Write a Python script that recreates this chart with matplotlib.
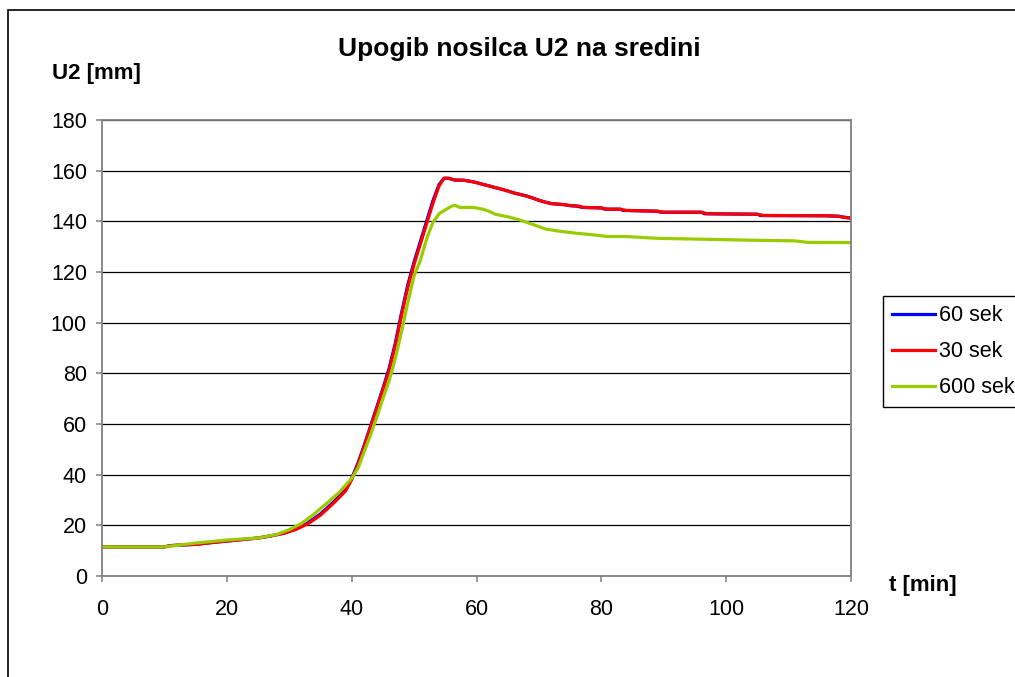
import matplotlib
matplotlib.use("Agg")
import matplotlib.pyplot as plt
from matplotlib.patches import Rectangle

plt.rcParams['font.family'] = ['Liberation Sans', 'DejaVu Sans']

# ---- data ----
t_60 = [0, 5, 10, 11, 15, 18, 20, 23, 25, 27, 29, 31, 33, 35, 37, 39, 40, 41, 42, 43,
        44, 45, 46, 47, 48, 49, 50, 51, 52, 53, 54, 54.8, 55.5, 56.5, 58, 59, 60, 61,
        62, 63, 64, 65, 66, 67, 68, 69, 70, 71, 72, 73, 74, 75, 76, 77, 80, 80.5, 83,
        83.5, 89, 89.5, 96, 96.5, 105, 105.5, 116, 118, 119, 120]
u_60 = [11.5, 11.5, 11.5, 12, 12.5, 13.3, 13.8, 14.5, 15, 15.8, 16.8, 18.5, 21, 24.5, 29,
        34, 38.5, 44.5, 51.5, 59, 66.5, 74, 82, 92, 104, 115, 124, 132, 140, 148, 154.5,
        157, 157, 156.3, 156.2, 155.8, 155.3, 154.6, 154, 153.3, 152.7, 152, 151.2, 150.6,
        150, 149.2, 148.3, 147.6, 147, 146.8, 146.6, 146.2, 146, 145.5, 145.3, 144.8,
        144.8, 144.3, 144, 143.6, 143.6, 143, 142.8, 142.3, 142.2, 142, 141.6, 141.3]

t_30 = [0, 5, 10, 11, 15, 18, 20, 23, 25, 27, 29, 31, 33, 35, 37, 39, 40, 41, 42, 43,
        44, 45, 46, 47, 48, 49, 50, 51, 52, 53, 54, 54.8, 55.5, 56.5, 58, 59, 60, 61,
        62, 63, 64, 65, 66, 67, 68, 69, 70, 71, 72, 73, 74, 75, 76.5, 77, 80, 81, 83,
        84, 89, 90, 96, 97, 105, 106, 116, 118, 119, 120]
u_30 = [11.5, 11.5, 11.5, 12, 12.5, 13.3, 13.8, 14.5, 15, 15.8, 16.8, 18.3, 20.6, 24, 28.5,
        33.5, 38, 44, 51, 58.5, 66, 73.5, 81, 91, 103, 114, 123, 131, 139, 147, 154,
        157, 157, 156.3, 156.2, 155.8, 155.3, 154.6, 154, 153.3, 152.7, 152, 151.2, 150.6,
        150, 149.2, 148.3, 147.6, 147, 146.8, 146.6, 146.2, 146, 145.5, 145.3, 144.8,
        144.8, 144.3, 144, 143.6, 143.6, 143, 142.8, 142.3, 142.2, 142, 141.5, 141.2]

t_600 = [0, 10, 15, 20, 25, 28, 30, 32, 34, 36, 38, 40, 41, 42, 43, 44, 45, 46, 47, 48,
         49, 50, 51, 52, 53, 54, 55, 56, 56.6, 57.3, 59.5, 61, 62, 63, 65, 67, 69, 71,
         73, 76, 79, 81, 84, 89, 97, 105, 111, 113, 120]
u_600 = [11.5, 11.5, 13, 14.2, 15, 16.4, 18.3, 20.8, 24.5, 28.7, 33, 38.5, 42.5, 49, 55.5,
         62.5, 70, 77, 86, 96.5, 108, 118.5, 124.5, 133, 139.5, 143, 144.5, 146, 146.3,
         145.5, 145.5, 144.8, 144, 142.8, 141.8, 140.5, 138.8, 137, 136.2, 135.3, 134.6,
         134, 134, 133.3, 132.9, 132.5, 132.3, 131.7, 131.6]

labels = ['60 sek', '30 sek', '600 sek']
x_ticks = [0, 20, 40, 60, 80, 100, 120]
y_ticks = [0, 20, 40, 60, 80, 100, 120, 140, 160, 180]

W, H = 1015, 677
fig = plt.figure(figsize=(W / 100, H / 100), dpi=100)
fig.patch.set_facecolor('white')

# outer chart border
fig.patches.append(Rectangle((8 / W, -0.1), 1.2, 1 - 10 / H + 0.1,
                             transform=fig.transFigure, fill=False,
                             edgecolor='black', linewidth=1.2))

ax = fig.add_axes([102 / W, 1 - 576 / H, (851 - 102) / W, (576 - 120) / H])
ax.set_xlim(0, 120)
ax.set_ylim(0, 180)
ax.set_xticks(x_ticks)
ax.set_yticks(y_ticks)
ax.grid(axis='y', color='black', linewidth=0.9)
ax.set_axisbelow(True)
for s in ax.spines.values():
    s.set_color('#808080')
    s.set_linewidth(1.3)
ax.tick_params(direction='out', length=4.3, width=1.1, color='#808080',
               labelsize=15.5)
ax.tick_params(axis='x', pad=12)
ax.tick_params(axis='y', pad=6.5)

l1, = ax.plot(t_60, u_60, color='#0000FF', lw=2.3, label=labels[0])
l2, = ax.plot(t_30, u_30, color='#FF0000', lw=2.3, label=labels[1])
l3, = ax.plot(t_600, u_600, color='#99CC00', lw=2.3, label=labels[2])

leg = fig.legend(handles=[l1, l2, l3], loc='upper left',
                 bbox_to_anchor=(883 / W, 1 - 296 / H), fontsize=15.5,
                 frameon=True, fancybox=False, framealpha=1, edgecolor='black',
                 handlelength=2.0, handletextpad=0.2, borderaxespad=0,
                 borderpad=0.42, labelspacing=0.7)
leg.get_frame().set_linewidth(1.0)

fig.text(519 / W, 1 - 49 / H, 'Upogib nosilca U2 na sredini', ha='center',
         va='center', fontsize=19, fontweight='bold')
fig.text(52 / W, 1 - 73 / H, 'U2 [mm]', ha='left', va='center', fontsize=16,
         fontweight='bold')
fig.text(889 / W, 1 - 585 / H, 't [min]', ha='left', va='center', fontsize=16,
         fontweight='bold')

fig.savefig('out.png', dpi=100)
